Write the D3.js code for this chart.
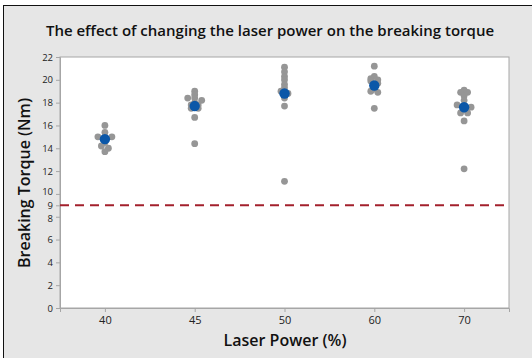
<!DOCTYPE html>
<html><head><meta charset="utf-8">
<script src="https://cdn.jsdelivr.net/npm/d3@7"></script>
<style>body{margin:0;background:#fff}svg{display:block}</style>
</head><body><svg id="c" width="532" height="358"></svg>
<script>
const categories = ["40","45","50","60","70"];
const values40 = [16.0,15.4,15.0,15.0,15.0,14.8,14.5,14.2,14.0,13.7];
const values45 = [19.0,18.7,18.4,18.4,18.2,18.0,17.8,17.8,17.5,17.5,16.7,14.4];
const values50 = [21.1,20.7,20.3,20.0,19.6,19.3,19.0,18.8,18.6,18.4,17.7,11.1];
const values60 = [21.2,20.3,20.1,20.0,19.9,19.7,19.5,19.2,19.0,18.9,17.5];
const values70 = [19.1,18.9,18.9,18.6,18.2,17.8,17.6,17.6,17.4,17.1,17.1,16.4,12.2];
const means = [14.8,17.7,18.8,19.5,17.6];
const yTicks = [0,2,4,6,8,9,10,12,14,16,18,20,22];
const refLine = 9;

const svg = d3.select("#c");
svg.append("rect").attr("x",3).attr("y",5).attr("width",529).attr("height",353).attr("fill","#e6e6e6");
svg.append("line").attr("x1",3.5).attr("x2",3.5).attr("y1",5).attr("y2",358).attr("stroke","#111");
svg.append("line").attr("x1",3).attr("x2",532).attr("y1",5.5).attr("y2",5.5).attr("stroke","#111");

const L=60,R=509,T=57,B=308;
const x = d3.scalePoint().domain(categories).range([L,R]).padding(0.5);
const y = d3.scaleLinear().domain([0,22]).range([B,T]);

svg.append("rect").attr("x",L).attr("y",T).attr("width",R-L).attr("height",B-T)
  .attr("fill","#fff").attr("stroke","#a6a6a6");

const font = "'Open Sans', sans-serif";
const ya = svg.append("g").attr("transform",`translate(${L},0)`)
  .call(d3.axisLeft(y).tickValues(yTicks).tickSize(4).tickPadding(3));
const xa = svg.append("g").attr("transform",`translate(0,${B})`)
  .call(d3.axisBottom(x).tickSize(4).tickPadding(4));
[ya,xa].forEach(a=>{
  a.select(".domain").attr("stroke","#a6a6a6");
  a.selectAll(".tick line").attr("stroke","#a6a6a6");
  a.selectAll(".tick text").attr("fill","#222").style("font-family",font).style("font-size","11px");
});
ya.selectAll(".tick text").style("font-size","9.5px")
  .attr("dy", d => d===10 ? "0.1em" : d===8 ? "0.55em" : "0.32em");

svg.append("line").attr("x1",L).attr("x2",R).attr("y1",y(refLine)).attr("y2",y(refLine))
  .attr("stroke","#a3202c").attr("stroke-width",2).attr("stroke-dasharray","9,6");

const groups = [values40,values45,values50,values60,values70];
groups.forEach((vals,i)=>{
  const bins = d3.group(vals, v=>Math.round(v/0.3));
  bins.forEach(arr=>{
    const n=arr.length;
    arr.forEach((v,j)=>{
      const off = (j-(n-1)/2)*7;
      svg.append("circle").attr("cx",x(categories[i])+off).attr("cy",y(v)).attr("r",3.4).attr("fill","#969696");
    });
  });
});
svg.selectAll(".mean").data(means).join("circle").attr("class","mean")
  .attr("cx",(d,i)=>x(categories[i])).attr("cy",d=>y(d)).attr("r",5.2).attr("fill","#0b57a8");

svg.append("text").attr("x",270).attr("y",36).attr("text-anchor","middle")
  .style("font-family",font).style("font-size","15px").style("font-weight","600").attr("fill","#111")
  .text("The effect of changing the laser power on the breaking torque");
svg.append("text").attr("transform","translate(30,183) rotate(-90)").attr("text-anchor","middle")
  .style("font-family",font).style("font-size","16px").style("font-weight","600").attr("fill","#111")
  .text("Breaking Torque (Nm)");
svg.append("text").attr("x",285).attr("y",346).attr("text-anchor","middle")
  .style("font-family",font).style("font-size","16px").style("font-weight","600").attr("fill","#111")
  .text("Laser Power (%)");
</script></body></html>
